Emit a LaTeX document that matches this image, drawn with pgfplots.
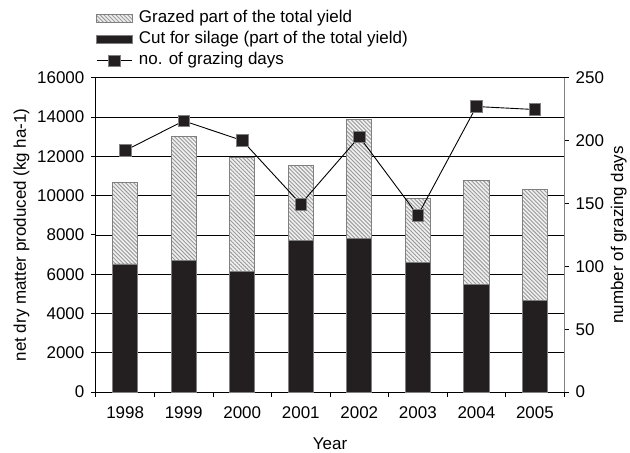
\documentclass[border=0pt]{standalone}
\usepackage{fontspec}
\setmainfont{Liberation Sans}
\usepackage{pgfplots}
\pgfplotsset{compat=1.18}
\usetikzlibrary{patterns.meta}
\definecolor{barblack}{HTML}{231F20}
\definecolor{edgegray}{HTML}{808080}
\definecolor{hatchgray}{HTML}{999999}
\tikzset{grazedstyle/.style={draw=edgegray, line width=0.9bp, fill=gray!12,
  postaction={pattern={Lines[angle=-45,distance=2.8bp,line width=0.9bp]}, pattern color=hatchgray}}}
\tikzset{silagestyle/.style={draw=edgegray, line width=0.9bp, fill=barblack}}
\pgfplotsset{linelegend/.style={legend image code/.code={\draw[mark repeat=2,mark phase=2,##1] plot coordinates {(0bp,0bp) (18bp,0bp) (36bp,0bp)};}}}
\newcommand\chartfont{\fontsize{17bp}{20bp}\selectfont}
\begin{document}
\begin{tikzpicture}
\begin{axis}[
  name=main,
  scale only axis, width=469bp, height=315bp,
  font=\chartfont,
  ybar stacked, bar width=0.43,
  xmin=-0.5, xmax=7.5, ymin=0, ymax=16000,
  xtick={0,...,7}, xticklabels={1998,1999,2000,2001,2002,2003,2004,2005},
  minor xtick={-0.5,0.5,...,7.5},
  ytick={0,2000,...,16000},
  axis x line*=bottom, axis y line*=left,
  axis line style={black, line width=0.8bp},
  tick align=outside, major tick length=5bp, minor tick length=5bp,
  major x tick style={draw=none},
  minor x tick style={black, line width=0.8bp},
  y tick style={black, line width=0.8bp},
  ymajorgrids, grid style={black, line width=0.7bp},
  scaled y ticks=false,
  yticklabel style={xshift=-3bp, /pgf/number format/set thousands separator={}, /pgf/number format/assume math mode=true},
  xticklabel style={yshift=-6bp},
  ylabel={net dry matter produced (kg ha-1)},
  ylabel style={yshift=1bp},
  xlabel={Year},
  xlabel style={yshift=-12bp},
]
\addplot[silagestyle] coordinates {(0,6520) (1,6700) (2,6150) (3,7700) (4,7840) (5,6620) (6,5470) (7,4660)};
\addplot[grazedstyle] coordinates {(0,4130) (1,6300) (2,5780) (3,3820) (4,6040) (5,3240) (6,5320) (7,5640)};
\end{axis}
\begin{axis}[
  scale only axis, width=469bp, height=315bp,
  font=\chartfont,
  xmin=-0.5, xmax=7.5, ymin=0, ymax=250,
  axis y line*=right, axis x line=none,
  axis line style={edgegray, line width=0.8bp},
  ytick={0,50,...,250},
  tick align=outside, major tick length=5bp,
  y tick style={black, line width=0.8bp},
  yticklabel style={xshift=3bp, /pgf/number format/assume math mode=true},
  ylabel={number of grazing days},
  legend style={at={(0,1)}, anchor=south west, draw=none, fill=none, inner sep=0pt,
    yshift=9bp, row sep=5.5bp, nodes={inner sep=0pt, text height=12bp, text depth=3.5bp},
    legend cell align=left, font=\chartfont,
    /tikz/every odd column/.append style={column sep=6bp}},
]
\addlegendimage{legend image code/.code={\draw[grazedstyle] (0bp,-4bp) rectangle (36bp,4bp);}}
\addlegendentry{Grazed part of the total yield}
\addlegendimage{legend image code/.code={\draw[silagestyle] (0bp,-4bp) rectangle (36bp,4bp);}}
\addlegendentry{Cut for silage (part of the total yield)}
\addplot[black, line width=0.9bp, mark=square*, mark size=5.8bp,
  mark options={fill=barblack, draw=edgegray, line width=0.6bp}, linelegend]
  coordinates {(0,192) (1,215.6) (2,200) (3,149.5) (4,203) (5,140.5) (6,227) (7,224.6)};
\addlegendentry{no. of grazing days}
\end{axis}
\path (main.south west) ++(-96bp,-60.3bp) rectangle ++(630bp,453bp);
\end{tikzpicture}
\end{document}
